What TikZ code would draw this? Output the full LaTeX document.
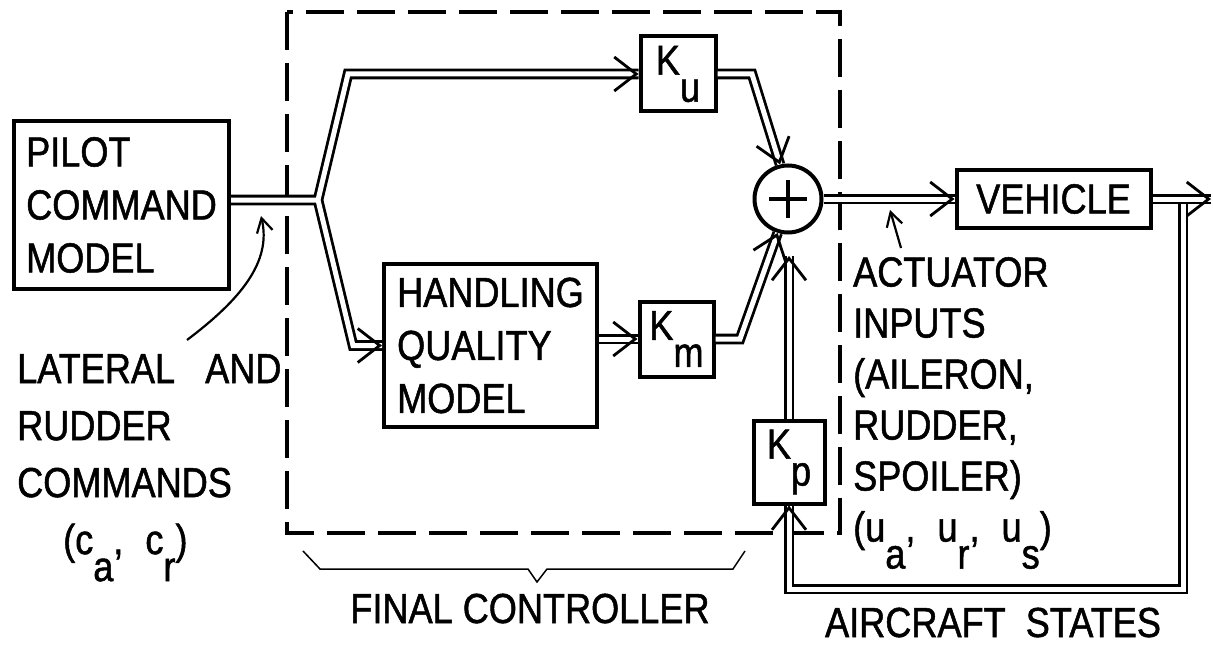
\documentclass[tikz,border=0pt]{standalone}
\usepackage{fontspec}
\setmainfont{Liberation Sans}[FakeStretch=0.86,FakeBold=1.2]
\usetikzlibrary{arrows.meta,calc}
\newcommand{\lowr}[1]{\raisebox{-27pt}{#1}}

\begin{document}
\begin{tikzpicture}[x=1pt,y=-1pt,
  blk/.style={draw,line width=4pt,inner sep=0pt,align=left,font=\fontsize{42}{53}\selectfont},
  dbl/.style={line width=2.8pt,double,double distance=5pt},
  dtip/.style={-{Straight Barb[length=22pt,width=34pt]},line width=2.8pt},
  ptr/.style={line width=2.2pt,-{Straight Barb[length=14pt,width=16pt]}},
  lbl/.style={inner sep=0pt,align=left,font=\fontsize{42}{51}\selectfont}]
\useasboundingbox (0,0) rectangle (1213,650);
% blocks
\node[blk,minimum width=215pt,minimum height=168pt] (pilot) at (121.5,205) {PILOT\\COMMAND\\MODEL};
\node[blk,minimum width=213pt,minimum height=163pt] (hq) at (490.5,345.5) {HANDLING\\QUALITY\\MODEL};
\node[blk,minimum width=75pt,minimum height=75pt] (ku) at (678,74) {K\lowr{u}};
\node[blk,minimum width=74pt,minimum height=75pt] (km) at (676.5,339) {K\lowr{m}};
\node[blk,minimum width=71pt,minimum height=83pt] (kp) at (789,462) {K\lowr{p}};
\node[blk,minimum width=194pt,minimum height=57pt] (veh) at (1053.5,199) {VEHICLE};
\node[draw,circle,line width=4pt,minimum size=67pt,inner sep=0pt] (sum) at (788,199) {};
\draw[line width=4pt] ([xshift=-19pt]sum.center) -- ([xshift=19pt]sum.center)
  ([yshift=-19pt]sum.center) -- ([yshift=19pt]sum.center);
% final controller frame
\draw[line width=4.5pt,dash pattern=on 38pt off 13pt] (287,12) rectangle (840,533);
\draw[line width=1.5pt] (303,551) -- (320,569) -- (528,569) -- (537,582) -- (547,569) -- (733,569) -- (745,551);
% signal paths
\coordinate (fork) at (318,200);
\coordinate (upbend) at (348,74);
\coordinate (lowbend) at (353,345.5);
\draw[dbl] ([yshift=5pt]pilot.east) -- (fork) -- (upbend) -- (ku.west)
  (fork) -- (lowbend) -- (hq.west);
\draw[dtip] ([xshift=-2pt]ku.west) -- (ku.west);
\draw[dtip] ([xshift=-2pt]hq.west) -- (hq.west);
\draw[dbl] (hq.east |- km.west) -- (km.west);
\draw[dtip] ([xshift=-2pt]km.west) -- (km.west);
\coordinate (kubend) at (752,74);
\draw[dbl] (ku.east) -- (kubend) -- (sum.103);
\draw[dtip] ($(sum.103)!2pt!(kubend)$) -- (sum.103);
\coordinate (kmbend) at (740,339);
\draw[dbl] (km.east) -- (kmbend) -- (sum.253);
\draw[dtip] ($(sum.253)!2pt!(kmbend)$) -- (sum.253);
\coordinate (kptop) at (789,256);
\draw[dbl] (kp.north) -- (kptop);
\draw[dtip] ([yshift=-2pt]kptop) -- (kptop);
\draw[dbl] (sum.east) -- (veh.west);
\draw[dtip] ([xshift=-2pt]veh.west) -- (veh.west);
% feedback
\coordinate (tap) at (1183,199);
\coordinate (fbcorner) at (1183,589);
\draw[dbl] (tap) -- (fbcorner) -- (kp.south |- fbcorner) -- (kp.south);
\draw[dtip] ([yshift=-2pt]kp.south) -- (kp.south);
\coordinate (exit) at (1211,199);
\draw[dbl] (veh.east) -- (exit);
\draw[dtip] ([xshift=-2pt]exit) -- (exit);
% labels
\node[lbl,anchor=north west,font=\fontsize{42}{57}\selectfont] (lat) at (17,354)
  {LATERAL\ \ \ AND\\RUDDER\\COMMANDS\\\hspace*{46pt}(c\lowr{a},\hspace{22pt}c\lowr{r})};
\coordinate (latfoot) at (187,340);
\coordinate (cmdtip) at (261,216);
\draw[ptr] (latfoot) .. controls (240,300) and (272,262) .. (cmdtip);
\node[lbl,anchor=north west] (act) at (853,257)
  {ACTUATOR\\INPUTS\\(AILERON,\\RUDDER,\\SPOILER)\\(u\lowr{a},\hspace{22pt}u\lowr{r},\hspace{22pt}u\lowr{s})};
\coordinate (actfoot) at (901,248);
\coordinate (acttip) at (890,210);
\draw[ptr] (actfoot) -- (acttip);
\node[lbl,anchor=base] (fc) at (530,623) {FINAL CONTROLLER};
\node[lbl,anchor=base] (acs) at (993,637) {AIRCRAFT\ \ STATES};
\end{tikzpicture}
\end{document}
